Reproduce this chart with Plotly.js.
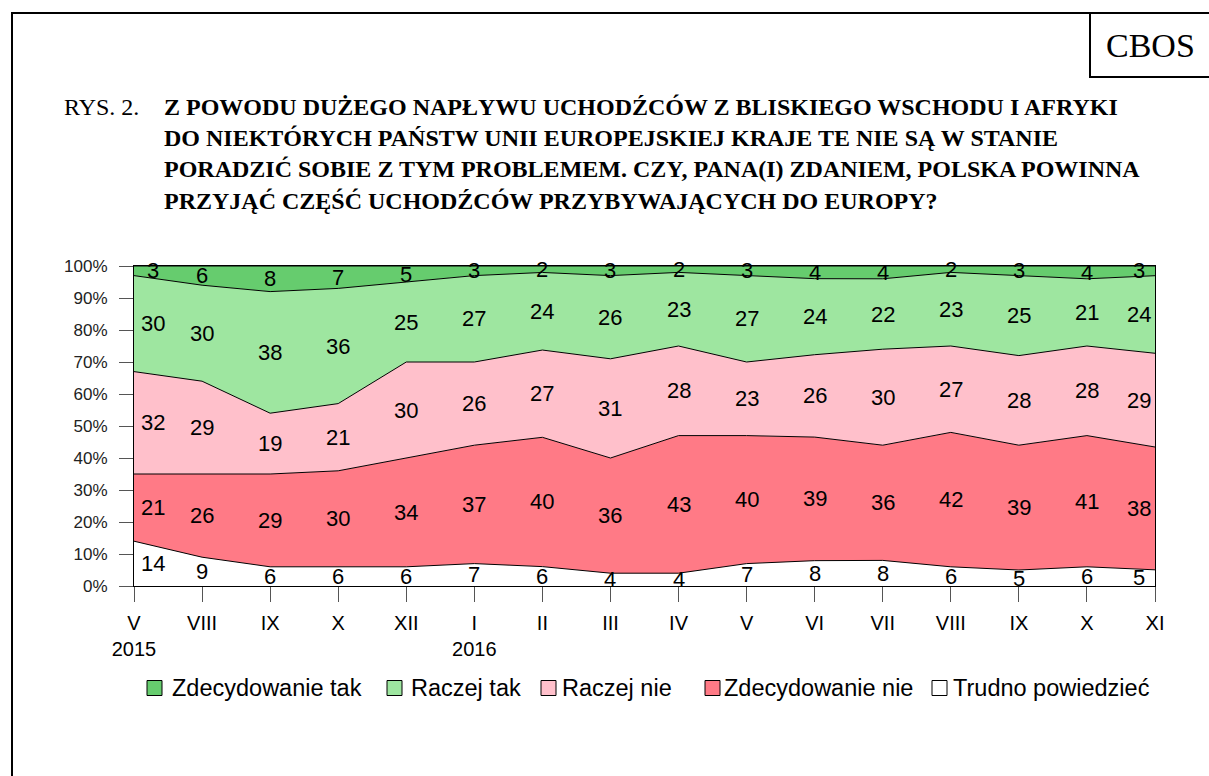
<!DOCTYPE html>
<html>
<head>
<meta charset="utf-8">
<script src="https://cdn.plot.ly/plotly-3.0.1.min.js"></script>
<style>
html,body{margin:0;padding:0;background:#fff;overflow:hidden;}
#wrap{position:relative;width:1209px;height:776px;overflow:hidden;}
#chart{width:1209px;height:776px;}
#frameL{position:absolute;left:11px;top:12px;width:0;height:764px;border-left:2.5px solid #000;pointer-events:none;}
#frameT{position:absolute;left:11px;top:12px;width:1198px;height:0;border-top:2.5px solid #000;pointer-events:none;}
#cbosL{position:absolute;left:1089px;top:12px;width:0;height:65px;border-left:2px solid #000;pointer-events:none;}
#cbosB{position:absolute;left:1089px;top:76px;width:120px;height:0;border-top:2px solid #000;pointer-events:none;}
</style>
</head>
<body>
<div id="wrap">
<div id="chart"></div>
<div id="frameL"></div>
<div id="frameT"></div>
<div id="cbosL"></div>
<div id="cbosB"></div>
</div>
<script>
// ---- data ----
const periods = ["V<br>2015","VIII","IX","X","XII","I<br>2016","II","III","IV","V","VI","VII","VIII","IX","X","XI"];
const seriesNames = ["Trudno powiedzieć","Zdecydowanie nie","Raczej nie","Raczej tak","Zdecydowanie tak"];
const trudno          = [14, 9, 6, 6, 6, 7, 6, 4, 4, 7, 8, 8, 6, 5, 6, 5];
const zdecydowanieNie = [21,26,29,30,34,37,40,36,43,40,39,36,42,39,41,38];
const raczejNie       = [32,29,19,21,30,26,27,31,28,23,26,30,27,28,28,29];
const raczejTak       = [30,30,38,36,25,27,24,26,23,27,24,22,23,25,21,24];
const zdecydowanieTak = [ 3, 6, 8, 7, 5, 3, 2, 3, 2, 3, 4, 4, 2, 3, 4, 3];
const yTickVals   = [0,10,20,30,40,50,60,70,80,90,100];
const yTickLabels = ["0%","10%","20%","30%","40%","50%","60%","70%","80%","90%","100%"];

const seriesValues = [trudno, zdecydowanieNie, raczejNie, raczejTak, zdecydowanieTak];
const colors = ["#FFFFFF","#FF7A86","#FFC0CB","#9EE6A0","#66CC6E"];
const xs = periods.map((_, i) => i);

// ---- layout geometry (pixels) ----
const W = 1209, H = 776;
const L = 134, R = 1155, T = 266, B = 586;
const px = x => (x - L) / (R - L);
const py = y => (B - y) / (B - T);

const traces = seriesValues.map((vals, k) => ({
  type: "scatter",
  mode: "lines",
  x: xs,
  y: vals,
  name: seriesNames[k],
  stackgroup: "one",
  groupnorm: "percent",
  fill: k === 0 ? "tozeroy" : "tonexty",
  fillcolor: colors[k],
  line: {color: "#000", width: 1},
  showlegend: false,
  hoverinfo: "name+y"
}));

const annotations = [];
// value labels at band midpoints
xs.forEach(i => {
  const total = seriesValues.reduce((s, v) => s + v[i], 0);
  let cum = 0;
  seriesValues.forEach(vals => {
    const v = vals[i];
    const mid = (cum + v / 2) / total * 100;
    cum += v;
    annotations.push({
      x: i, y: mid, xref: "x", yref: "y",
      text: String(v), showarrow: false,
      xshift: i === 0 ? 19 : (i === xs.length - 1 ? -16 : 0),
      font: {family: "Liberation Sans, Arial, sans-serif", size: 22, color: "#000"}
    });
  });
});

// title
annotations.push({
  xref: "paper", yref: "paper", x: px(62), y: py(107), xanchor: "left", yanchor: "middle",
  text: "RYS. 2.", showarrow: false,
  font: {family: "Liberation Serif, Times New Roman, serif", size: 24, color: "#000"}
});
annotations.push({
  xref: "paper", yref: "paper", x: px(162), y: py(153.5), xanchor: "left", yanchor: "middle",
  align: "left", showarrow: false,
  text: "<b>Z POWODU DUŻEGO NAPŁYWU UCHODŹCÓW Z BLISKIEGO WSCHODU I AFRYKI<br>DO NIEKTÓRYCH PAŃSTW UNII EUROPEJSKIEJ KRAJE TE NIE SĄ W STANIE<br>PORADZIĆ SOBIE Z TYM PROBLEMEM. CZY, PANA(I) ZDANIEM, POLSKA POWINNA<br>PRZYJĄĆ CZĘŚĆ UCHODŹCÓW PRZYBYWAJĄCYCH DO EUROPY?</b>",
  font: {family: "Liberation Serif, Times New Roman, serif", size: 24, color: "#000"}
});
// CBOS
annotations.push({
  xref: "paper", yref: "paper", x: px(1150), y: py(45), xanchor: "center", yanchor: "middle",
  text: "CBOS", showarrow: false,
  font: {family: "Liberation Serif, Times New Roman, serif", size: 34, color: "#000"}
});

// legend (custom)
const legendOrder = [4, 3, 2, 1, 0];
const legSquareX = [147, 387, 541, 705, 932];
const legTextX = [170, 409, 560, 722, 951];
const legY = 688;
const shapes = [];
legendOrder.forEach((k, j) => {
  const sx = legSquareX[j];
  shapes.push({
    type: "rect", xref: "paper", yref: "paper",
    x0: px(sx), x1: px(sx + 15), y0: py(legY + 7.5), y1: py(legY - 7.5),
    fillcolor: colors[k], line: {color: "#000", width: 1}
  });
  annotations.push({
    xref: "paper", yref: "paper", x: px(legTextX[j]), y: py(legY), xanchor: "left", yanchor: "middle",
    text: seriesNames[k], showarrow: false,
    font: {family: "Liberation Sans, Arial, sans-serif", size: 23.5, color: "#000"}
  });
});

const layout = {
  width: W, height: H,
  margin: {l: L, r: W - R, t: T, b: H - B, pad: 0},
  paper_bgcolor: "#fff", plot_bgcolor: "#fff",
  showlegend: false,
  xaxis: {
    range: [0, 15], tickmode: "array", tickvals: xs, ticktext: periods,
    ticks: "outside", ticklen: 15, tickcolor: "#555", tickwidth: 1,
    ticklabelstandoff: 4,
    showline: true, mirror: true, linecolor: "#000", linewidth: 1,
    showgrid: false, zeroline: false, fixedrange: true,
    tickfont: {family: "Liberation Sans, Arial, sans-serif", size: 20, color: "#000"}
  },
  yaxis: {
    range: [0, 100], tickmode: "array", tickvals: yTickVals, ticktext: yTickLabels,
    ticks: "outside", ticklen: 14, tickcolor: "#555", tickwidth: 1,
    ticklabelstandoff: 8,
    showline: true, mirror: true, linecolor: "#000", linewidth: 1,
    showgrid: false, zeroline: false, fixedrange: true,
    tickfont: {family: "Liberation Sans, Arial, sans-serif", size: 17, color: "#222"}
  },
  annotations: annotations,
  shapes: shapes
};

Plotly.newPlot("chart", traces, layout, {displayModeBar: false, staticPlot: true});
</script>
</body>
</html>
